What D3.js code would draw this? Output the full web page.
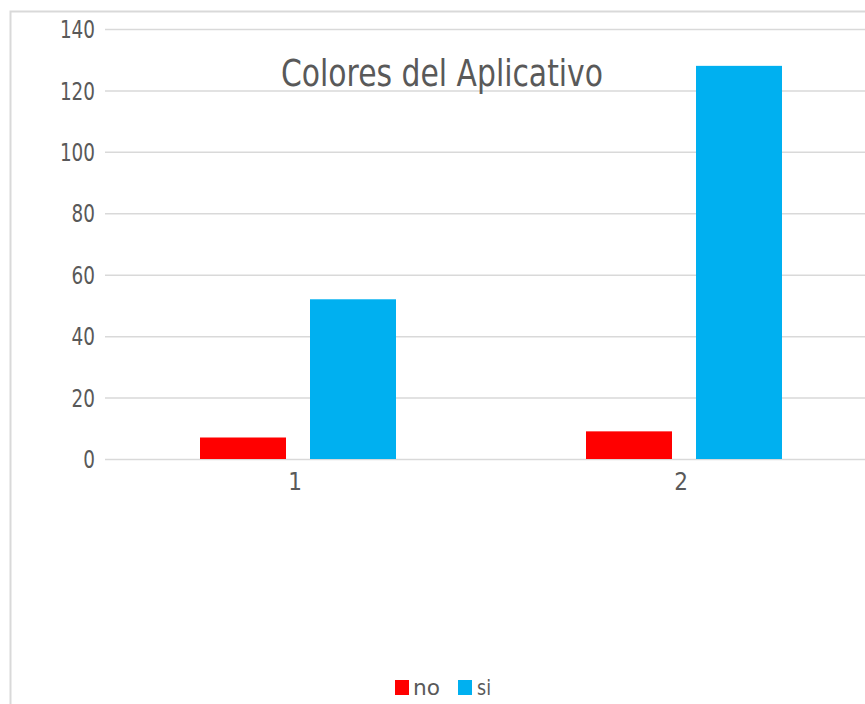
<!DOCTYPE html>
<html>
<head>
<meta charset="utf-8">
<script src="https://cdn.jsdelivr.net/npm/d3@7/dist/d3.min.js"></script>
<style>
  html, body { margin: 0; padding: 0; background: #fff; }
  svg { display: block; }
  text { font-family: "Liberation Sans Narrow", "DejaVu Sans Condensed", "Liberation Sans", Arial, sans-serif; }
</style>
</head>
<body>
<svg id="chart" width="865" height="704"></svg>
<script>
const title = "Colores del Aplicativo";
const categories = ["1", "2"];
const seriesNames = ["no", "si"];
const seriesColors = ["#ff0000", "#00b0f0"];
const noValues = [7, 9];
const siValues = [52, 128];
const yTicks = [0, 20, 40, 60, 80, 100, 120, 140];

const rows = categories.map((c, i) => ({ cat: c, no: noValues[i], si: siValues[i] }));

const svg = d3.select("#chart");
const W = 865, H = 704;

// chart border (partially visible frame)
svg.append("rect")
  .attr("x", 10.5).attr("y", 11.5)
  .attr("width", W + 20).attr("height", H + 20)
  .attr("fill", "#fff")
  .attr("stroke", "#d9d9d9").attr("stroke-width", 2);

const y = d3.scaleLinear().domain([0, 140]).range([459, 29]);
const x0 = d3.scaleBand().domain(categories).range([105, 877]).paddingInner(0).paddingOuter(0);
const x1 = d3.scaleBand().domain(seriesNames).range([0, x0.bandwidth()])
  .paddingInner(24 / 110).paddingOuter(95 / 110);
const color = d3.scaleOrdinal().domain(seriesNames).range(seriesColors);

// y axis with gridlines
const yAxis = svg.append("g")
  .attr("transform", "translate(105,0)")
  .call(d3.axisLeft(y).tickValues(yTicks).tickSize(-(W - 105)).tickPadding(10));
yAxis.select(".domain").remove();
yAxis.selectAll(".tick line").attr("stroke", "#d9d9d9").attr("stroke-width", 1.5);
yAxis.selectAll(".tick text")
  .attr("fill", "#595959")
  .style("font-size", "24px")
  .attr("dy", "0.36em")
  .attr("textLength", d => String(d).length * 11.7)
  .attr("lengthAdjust", "spacingAndGlyphs");

// title
svg.append("text")
  .attr("x", 442).attr("y", 86)
  .attr("text-anchor", "middle")
  .attr("fill", "#595959")
  .style("font-size", "38px")
  .attr("textLength", 322)
  .attr("lengthAdjust", "spacingAndGlyphs")
  .text(title);

// bars
const groups = svg.append("g").selectAll("g")
  .data(rows).join("g")
  .attr("transform", d => `translate(${x0(d.cat)},0)`);
groups.selectAll("rect")
  .data(d => seriesNames.map(k => ({ key: k, value: d[k] })))
  .join("rect")
  .attr("x", d => x1(d.key))
  .attr("width", x1.bandwidth())
  .attr("y", d => y(d.value))
  .attr("height", d => y(0) - y(d.value))
  .attr("fill", d => color(d.key));

// x category labels
const xAxis = svg.append("g")
  .attr("transform", `translate(-3,${y(0)})`)
  .call(d3.axisBottom(x0).tickSize(0).tickPadding(14));
xAxis.select(".domain").remove();
xAxis.selectAll(".tick text")
  .attr("fill", "#595959")
  .style("font-size", "24px");

// legend
const legendItems = [{ key: "no", x: 395, tx: 413, w: 27 }, { key: "si", x: 458, tx: 477, w: 14 }];
const legend = svg.append("g");
legend.selectAll("rect")
  .data(legendItems).join("rect")
  .attr("x", d => d.x).attr("y", 680)
  .attr("width", 14).attr("height", 15)
  .attr("fill", d => color(d.key));
legend.selectAll("text")
  .data(legendItems).join("text")
  .attr("x", d => d.tx).attr("y", 695)
  .attr("fill", "#595959")
  .style("font-size", "22px")
  .attr("textLength", d => d.w)
  .attr("lengthAdjust", "spacingAndGlyphs")
  .text(d => d.key);
</script>
</body>
</html>
